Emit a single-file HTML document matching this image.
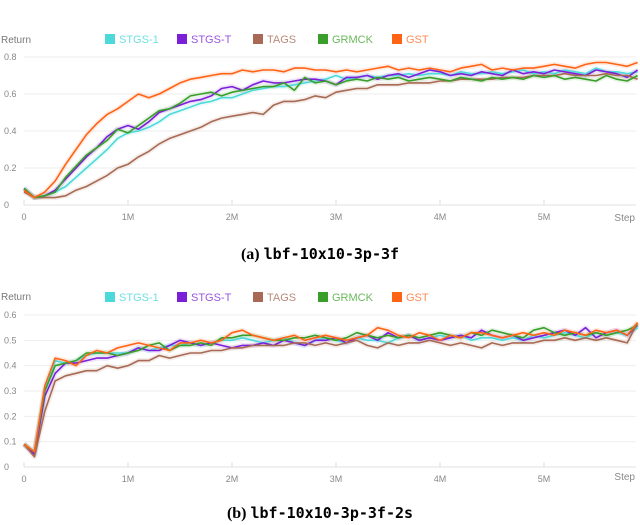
<!DOCTYPE html>
<html><head><meta charset="utf-8">
<style>
html,body{margin:0;padding:0;background:#fff;}
svg{display:block;}
.cap{font-family:"Liberation Serif",serif;font-weight:bold;font-size:16px;}
.mono{font-family:"DejaVu Sans Mono","Liberation Mono",monospace;font-weight:bold;font-size:15px;}
</style></head>
<body>
<svg id="root" width="640" height="525" viewBox="0 0 640 525">
<text x="320" y="259" text-anchor="middle"><tspan class="cap">(a) </tspan><tspan class="mono">lbf-10x10-3p-3f</tspan></text>
<text x="320" y="518" text-anchor="middle"><tspan class="cap">(b) </tspan><tspan class="mono">lbf-10x10-3p-3f-2s</tspan></text>
</svg>
<script>
const seriesNames=["STGS-1","STGS-T","TAGS","GRMCK","GST"];
const seriesColors=["#4dd9d9","#7b1fd8","#a86a55","#3a9e2a","#ff6316"];
const legendColors=["#6fe0e0","#9a55e0","#b98a7a","#6ab85c","#ff8a55"];
const xTicks=[0,1,2,3,4,5];
const xTickLabels=["0","1M","2M","3M","4M","5M"];
const stepM=0.1;
// chart A
const a_y_ticks=[0,0.2,0.4,0.6,0.8];
const a_stgs1=[.09,.04,.05,.07,.10,.15,.20,.25,.30,.36,.39,.40,.42,.45,.49,.51,.53,.55,.56,.58,.58,.60,.62,.63,.64,.64,.65,.66,.67,.68,.70,.68,.69,.70,.69,.70,.70,.71,.70,.71,.71,.70,.72,.71,.71,.72,.71,.72,.73,.71,.72,.71,.73,.72,.71,.74,.72,.72,.71,.72];
const a_stgst=[.09,.04,.05,.08,.14,.20,.26,.31,.37,.41,.43,.41,.45,.50,.52,.54,.56,.57,.59,.63,.64,.62,.65,.67,.66,.66,.67,.68,.68,.67,.65,.69,.69,.70,.68,.70,.71,.69,.71,.73,.72,.70,.71,.70,.72,.71,.70,.73,.71,.72,.71,.73,.72,.71,.70,.73,.72,.71,.69,.73];
const a_tags=[.07,.04,.04,.04,.05,.08,.10,.13,.16,.20,.22,.26,.29,.33,.36,.38,.40,.42,.45,.47,.48,.49,.50,.49,.54,.56,.56,.57,.59,.58,.61,.62,.63,.63,.65,.65,.65,.66,.66,.66,.67,.67,.68,.68,.68,.68,.69,.69,.69,.70,.70,.70,.71,.70,.70,.70,.71,.70,.70,.68];
const a_grmck=[.09,.04,.05,.07,.15,.21,.27,.31,.35,.41,.39,.43,.47,.51,.52,.55,.59,.60,.61,.59,.61,.62,.63,.64,.64,.66,.62,.69,.66,.67,.65,.67,.68,.67,.69,.68,.69,.67,.68,.69,.68,.67,.69,.68,.67,.69,.68,.69,.68,.70,.69,.70,.68,.69,.68,.67,.70,.68,.67,.70];
const a_gst=[.08,.04,.07,.13,.22,.30,.38,.44,.49,.52,.56,.60,.58,.60,.63,.66,.68,.69,.70,.71,.71,.73,.72,.73,.73,.72,.74,.74,.73,.73,.72,.73,.72,.73,.74,.75,.73,.74,.73,.74,.73,.72,.74,.75,.76,.73,.74,.73,.74,.74,.75,.76,.75,.74,.76,.77,.77,.76,.75,.77];
// chart B
const b_y_ticks=[0,0.1,0.2,0.3,0.4,0.5,0.6];
const b_stgs1=[.09,.05,.30,.42,.41,.42,.44,.45,.45,.45,.45,.47,.46,.47,.48,.48,.49,.48,.49,.50,.50,.51,.50,.49,.50,.51,.49,.48,.50,.51,.50,.49,.51,.50,.50,.49,.51,.52,.50,.51,.52,.51,.52,.50,.51,.51,.50,.51,.50,.52,.51,.52,.53,.52,.51,.53,.52,.53,.52,.55];
const b_stgst=[.09,.05,.28,.37,.41,.41,.42,.43,.43,.44,.45,.47,.46,.46,.48,.50,.49,.48,.49,.48,.47,.48,.48,.49,.48,.50,.49,.48,.50,.50,.51,.49,.51,.52,.50,.53,.51,.52,.50,.51,.50,.51,.52,.51,.54,.52,.51,.52,.50,.51,.52,.53,.54,.52,.55,.51,.53,.54,.52,.56];
const b_tags=[.09,.04,.22,.34,.36,.37,.38,.38,.40,.39,.40,.42,.42,.44,.43,.44,.45,.45,.46,.46,.47,.47,.48,.48,.48,.48,.49,.49,.48,.49,.48,.49,.50,.48,.47,.49,.48,.49,.49,.50,.49,.48,.49,.48,.47,.49,.48,.49,.49,.49,.50,.50,.51,.50,.51,.50,.51,.50,.49,.57];
const b_grmck=[.09,.06,.30,.40,.41,.42,.45,.45,.45,.44,.45,.46,.48,.49,.46,.48,.48,.49,.48,.51,.51,.52,.52,.51,.50,.50,.51,.51,.52,.51,.50,.51,.53,.52,.51,.52,.51,.52,.51,.52,.53,.52,.51,.53,.52,.54,.53,.52,.51,.54,.55,.53,.52,.53,.52,.53,.52,.53,.54,.56];
const b_gst=[.09,.06,.32,.43,.42,.40,.44,.46,.45,.47,.48,.49,.48,.47,.46,.49,.49,.50,.49,.50,.53,.54,.52,.51,.50,.51,.52,.50,.51,.52,.51,.50,.51,.52,.55,.54,.52,.51,.53,.52,.50,.52,.51,.53,.53,.52,.51,.52,.53,.52,.53,.52,.54,.53,.52,.54,.53,.54,.52,.57];

const NS="http://www.w3.org/2000/svg";
const root=document.getElementById('root');
function mk(tag,attrs,parent){const e=document.createElementNS(NS,tag);for(const k in attrs)e.setAttribute(k,attrs[k]);(parent||root).appendChild(e);return e;}

function chart(cfg){
  const g=mk('g',{});
  
  
  const x0=24,pxPerM=104;
  const sx=v=>x0+v*pxPerM;
  const sy=v=>cfg.y0-(v/cfg.ymax)*(cfg.y0-cfg.ytop);
  // gridlines
  cfg.yticks.forEach(t=>{
    const ln=mk('line',{x1:x0,x2:636,y1:sy(t),y2:sy(t),stroke:t===0?'#e0e0e0':'#eeeeee','stroke-width':1},g);
    
    
    const tx=mk('text',{x:4,y:sy(t)+3,'font-size':9,fill:'#888','font-family':'Liberation Sans, sans-serif'},g);
    tx.textContent=String(t);
    
    
  });
  xTicks.forEach((t,i)=>{
    const tk=mk('line',{x1:sx(t),x2:sx(t),y1:cfg.y0-5,y2:cfg.y0,stroke:'#dddddd'},g);
    
    
    const tx=mk('text',{x:sx(t),y:cfg.y0+15,'font-size':9,fill:'#888','text-anchor':'middle','font-family':'Liberation Sans, sans-serif'},g);
    tx.textContent=xTickLabels[i];
    
    
  });
  const st=mk('text',{x:635,y:cfg.stepY,'font-size':10,fill:'#888','text-anchor':'end','font-family':'Liberation Sans, sans-serif'},g);
  st.textContent='Step';
  
  
  const rt=mk('text',{x:1,y:cfg.retY,'font-size':10,fill:'#777','font-family':'Liberation Sans, sans-serif'},g);
  rt.textContent='Return';
  
  
  // legend
  const lx=[105,177,253,318,392];
  seriesNames.forEach((n,i)=>{
    const r=mk('rect',{x:lx[i],y:cfg.legY-5,width:10,height:10,fill:seriesColors[i]},g);
    
    
    const t=mk('text',{x:lx[i]+14,y:cfg.legY+4,'font-size':11,fill:legendColors[i],'font-family':'Liberation Sans, sans-serif'},g);
    t.textContent=n;
    
    
  });
  // series
  cfg.series.forEach((arr,i)=>{
    const d=arr.map((v,j)=>(j?'L':'M')+sx(j*stepM).toFixed(1)+','+sy(v).toFixed(1)).join('');
    const band=mk('path',{d:d,fill:'none',stroke:seriesColors[i],'stroke-width':5,'stroke-opacity':0.12,'stroke-linejoin':'round'},g);
    
    
  });
  cfg.series.forEach((arr,i)=>{
    const d=arr.map((v,j)=>(j?'L':'M')+sx(j*stepM).toFixed(1)+','+sy(v).toFixed(1)).join('');
    const p=mk('path',{d:d,fill:'none',stroke:seriesColors[i],'stroke-width':1.6,'stroke-linejoin':'round'},g);
    
    
  });
}
chart({name:'chart-a',y0:205,ytop:57,ymax:0.8,yticks:a_y_ticks,stepY:221,retY:43,legY:39,
  series:[a_stgs1,a_stgst,a_tags,a_grmck,a_gst]});
chart({name:'chart-b',y0:467,ytop:315,ymax:0.6,yticks:b_y_ticks,stepY:480,retY:300,legY:297,
  series:[b_stgs1,b_stgst,b_tags,b_grmck,b_gst]});
</script>
</body></html>
